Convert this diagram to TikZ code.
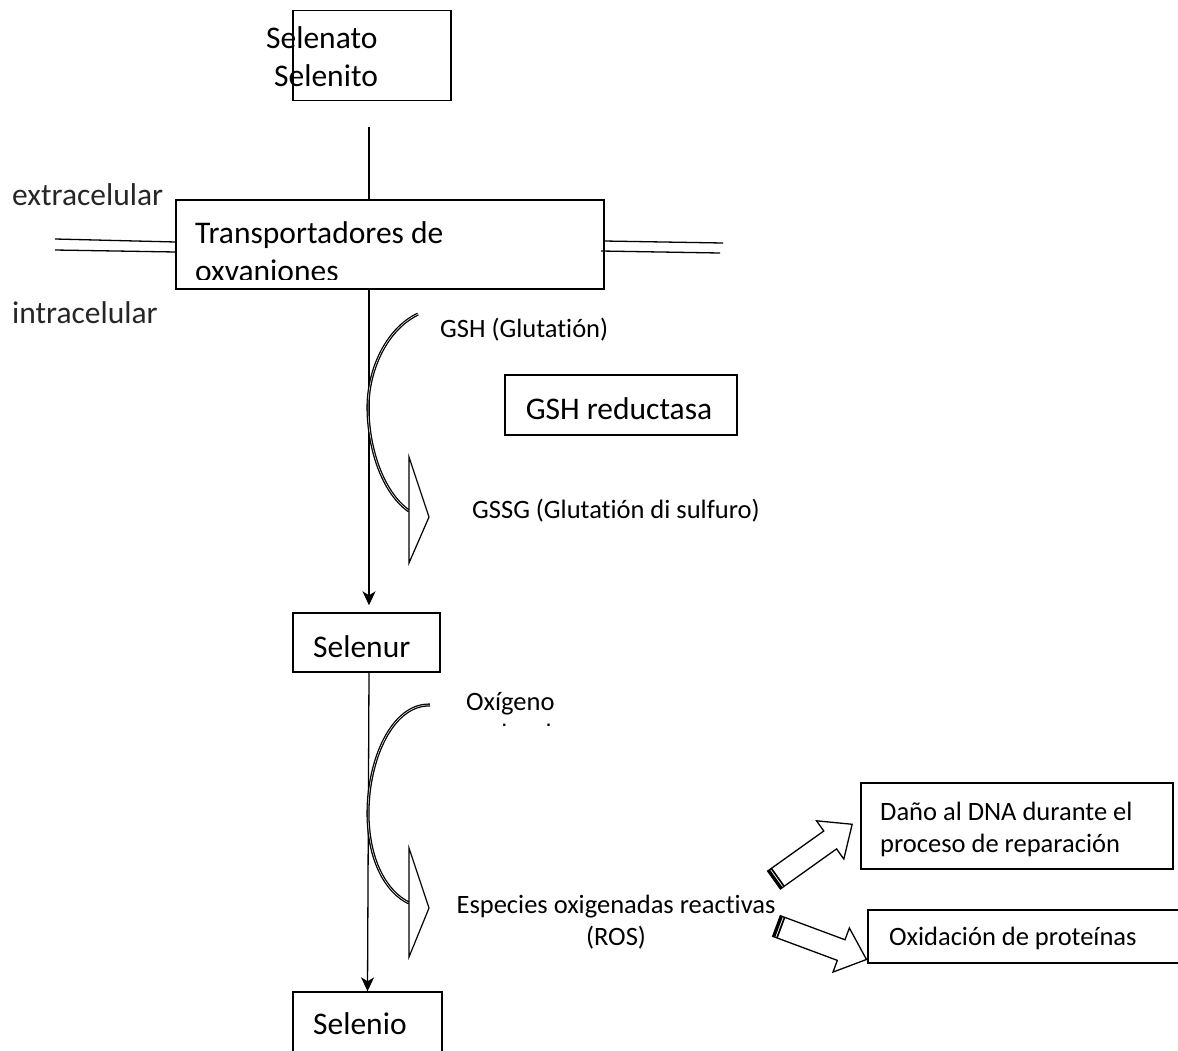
\documentclass[tikz,border=0pt]{standalone}
\usepackage{fontspec}
\setmainfont{Carlito}[Ligatures={NoCommon,NoContextual},Contextuals=NoAlternate]
\usetikzlibrary{arrows.meta,calc}
\begin{document}
\begin{tikzpicture}[x=1pt,y=-1pt,
  box/.style={draw,line width=1.4pt,inner sep=0pt,rectangle},
  big/.style={font=\fontsize{31.5}{38}\selectfont,inner sep=0pt},
  small/.style={font=\fontsize{26.5}{32}\selectfont,inner sep=0pt},
  flow/.style={line width=1.3pt,-{Stealth[length=14pt,width=13pt,inset=4pt]}},
  membrane/.style={line width=1.3pt},
  curvearrow/.style={double,line width=1.3pt,double distance=0.5pt},
  openhead/.style={draw,fill=white,line width=1.2pt,line join=miter},
  blockarrow/.style={draw,fill=white,line width=1.3pt,line join=miter}]
\useasboundingbox (0,0) rectangle (1178,1050);

% source box
\node[box,minimum width=158pt,minimum height=90pt] (src) at (372,55.5) {};
\node[big,anchor=base west] (selenato) at (266,48) {Selenato};
\node[big,anchor=base west] (selenito) at (274,86) {Selenito};

% transporter box
\node[box,minimum width=428pt,minimum height=89pt] (trans) at (390,244.5) {};
\node[big,anchor=base west] (transA) at (195,243) {Transportadores de};
\begin{scope}
  \clip (177,201) rectangle (603,279);
  \node[big,anchor=base west] (transB) at (195,281) {oxvaniones};
\end{scope}

% membrane
\draw[membrane] (55,239) -- (176,242);
\draw[membrane] (55,250) -- (176,252);
\draw[membrane] (604,241) -- (723,243);
\draw[membrane] (601,251) -- (720,253);
\node[big,anchor=base west,text=black!85] (extra) at (12,205) {extracelular};
\node[big,anchor=base west,text=black!85] (intra) at (12,323) {intracelular};

% feed line
\coordinate (feed) at (369,127);
\draw[line width=1.3pt] (feed) -- (feed |- trans.north);

% Selenur
\node[box,minimum width=147pt,minimum height=59pt] (selenur) at (366.5,642.5) {};
\node[big,anchor=base west] (selenurT) at (313,657) {Selenur};

% Selenio and Oxidacion boxes (cut by page edge)
\begin{scope}
  \clip (0,0) rectangle (1178,1050);
  \node[box,minimum width=149pt,minimum height=80pt] (selenio) at (367.5,1032) {};
  \node[box,minimum width=322pt,minimum height=53pt] (oxid) at (1029,936.5) {};
\end{scope}
\node[big,anchor=base west] (selenioT) at (313,1034) {Selenio};

% main flow
\draw[flow] (trans.south -| feed) -- ($(selenur.north -| feed)+(0,-7)$);
\draw[flow] ([xshift=2.5pt]selenur.south) -- (selenio.north);

% GSH cycle
\node[small,anchor=base west] (gsh) at (440,337) {GSH (Glutat\kern0ptión)};
\node[box,minimum width=232pt,minimum height=60pt] (red) at (621,405) {};
\node[big,anchor=base] (redT) at (619,419) {GSH reductasa};
\node[small,anchor=base west] (gssg) at (472,518) {GSSG (Glutat\kern0ptión di sulfuro)};
\draw[curvearrow] (418,314) .. controls (385,330) and (368,372) .. (368,407)
                  .. controls (368,447) and (382,492) .. (409,511);
\draw[openhead] (409,457) -- (429,517) -- (409,563) -- cycle;

% Oxygen cycle
\node[small,anchor=base west] (oxi) at (466,710) {Oxígeno};
\begin{scope}
  \clip (450,715) rectangle (600,725.5);
  \node[small,anchor=base west] (molec) at (466,742) {molecular};
\end{scope}
\node[small,anchor=base] (ros1) at (616,913) {Especies oxigenadas reactivas};
\node[small,anchor=base] (ros2) at (616,945) {(ROS)};
\draw[curvearrow] (430,705) .. controls (392,704) and (368,760) .. (368,813)
                  .. controls (368,860) and (386,892) .. (409,903);
\draw[openhead] (409,848) -- (429,908) -- (409,957) -- cycle;

% effects
\node[box,minimum width=312pt,minimum height=86pt] (dna) at (1017,826) {};
\node[small,anchor=base west] (dna1) at (880,820) {Daño al DNA durante el};
\node[small,anchor=base west] (dna2) at (880,852) {proceso de reparación};
\node[small,anchor=base west] (oxidT) at (889,945) {Oxidación de proteínas};

\begin{scope}[shift={(774,880)},rotate=35.5]
  \draw[blockarrow] (0,-11) -- (69,-11) -- (69,-23.5) -- (96,0) -- (69,23.5) -- (69,11) -- (0,11) -- cycle;
  \fill (0,-11) rectangle (2.7,11);
  \fill (3.7,-11) rectangle (5.4,11);
\end{scope}
\begin{scope}[shift={(776.5,926)},rotate=-20.4]
  \draw[blockarrow] (0,-11) -- (69,-11) -- (69,-23.5) -- (96,0) -- (69,23.5) -- (69,11) -- (0,11) -- cycle;
  \fill (0,-11) rectangle (2.7,11);
  \fill (3.7,-11) rectangle (5.4,11);
\end{scope}
\end{tikzpicture}
\end{document}
